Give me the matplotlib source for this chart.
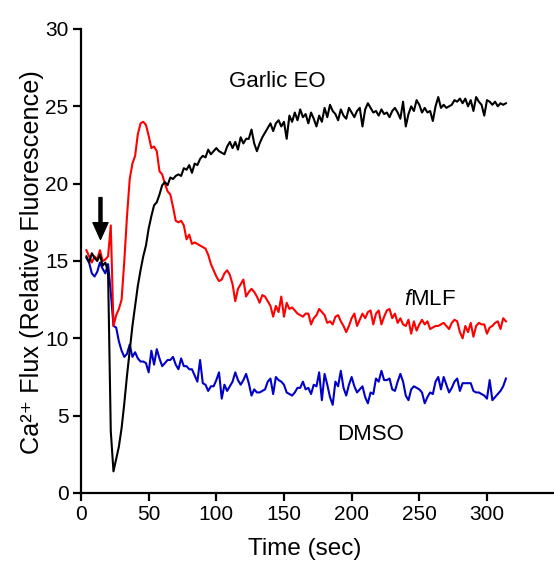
import numpy as np
import matplotlib
matplotlib.use('Agg')
import matplotlib.pyplot as plt

plt.rcParams['font.family'] = ['Liberation Sans', 'DejaVu Sans']
plt.rcParams['mathtext.fontset'] = 'custom'
plt.rcParams['mathtext.rm'] = 'Liberation Sans'
plt.rcParams['mathtext.it'] = 'Liberation Sans:italic'

################################ data (2 s sampling)
time = np.arange(4, 316, 2)

garlic = [15.3, 14.9, 15.5, 15.2, 15.0, 15.4, 14.7, 14.9, 14.3, 4.0,
          1.4, 2.2, 3.0, 4.2, 5.8, 7.6, 9.2, 10.8, 12.1, 13.4,
          14.4, 15.3, 16.0, 17.1, 17.9, 18.6, 18.8, 19.3, 19.9, 20.1,
          19.9, 20.4, 20.3, 20.5, 20.6, 20.5, 21.0, 20.9, 21.2, 20.7,
          21.3, 21.2, 21.6, 21.8, 21.7, 22.2, 21.9, 22.1, 22.3, 22.1,
          22.0, 21.9, 22.4, 22.7, 22.3, 22.7, 22.2, 23.0, 22.6, 22.9,
          22.9, 23.5, 22.6, 22.1, 22.6, 23.0, 23.3, 23.6, 23.9, 23.4,
          23.9, 24.1, 23.7, 24.0, 22.9, 24.4, 24.0, 24.6, 24.1, 24.8,
          24.3, 24.5, 23.9, 24.6, 24.2, 23.7, 24.4, 24.0, 24.9, 24.3,
          25.1, 24.7, 24.5, 24.1, 24.8, 24.4, 24.2, 24.9, 24.6, 24.3,
          24.7, 24.9, 23.7, 24.8, 25.2, 24.9, 24.6, 24.7, 24.4, 24.8,
          24.5, 24.6, 24.3, 24.7, 24.9, 24.6, 24.2, 25.3, 23.7, 24.5,
          25.0, 24.7, 25.4, 25.1, 24.6, 24.9, 24.6, 24.7, 24.05, 25.0,
          25.6, 24.9, 25.1, 24.9, 25.0, 25.1, 25.4, 25.3, 25.5, 25.2,
          25.5, 25.0, 25.4, 24.7, 25.6, 25.3, 25.1, 24.4, 25.4, 25.3,
          25.1, 25.3, 25.0, 25.2, 25.1, 25.2]

fmlf = [15.7, 15.3, 14.9, 15.3, 15.1, 15.7, 15.0, 15.1, 15.3, 17.3,
        10.8, 11.5, 11.9, 12.5, 15.0, 17.9, 20.3, 21.3, 21.8, 23.2,
        23.9, 24.0, 23.8, 23.1, 22.3, 22.4, 22.1, 20.8, 20.6, 20.0,
        19.5, 19.3, 18.5, 17.6, 17.5, 17.6, 17.3, 16.4, 16.7, 16.1,
        16.2, 16.1, 16.0, 15.9, 15.8, 15.4, 14.8, 14.4, 14.0, 13.7,
        13.8, 14.2, 14.4, 14.1, 13.5, 12.4, 13.2, 13.5, 13.8, 12.7,
        13.0, 13.2, 13.0, 12.7, 12.3, 12.8, 12.7, 12.4, 12.1, 11.4,
        12.1, 11.7, 12.7, 11.4, 12.3, 11.9, 12.0, 11.8, 11.6, 11.5,
        11.4, 11.6, 11.6, 10.9, 11.3, 11.5, 11.9, 11.7, 11.5, 11.0,
        11.1, 10.9, 11.4, 11.5, 11.1, 10.8, 10.4, 10.8, 11.3, 11.6,
        10.8, 11.2, 11.6, 11.3, 11.7, 11.8, 10.9, 11.6, 11.8, 10.9,
        11.4, 11.8, 11.9, 11.3, 11.6, 11.0, 11.3, 10.9, 10.8, 11.2,
        10.3, 11.1, 10.5, 10.9, 11.2, 10.9, 11.1, 10.6, 10.7, 10.8,
        10.8, 10.9, 11.0, 10.8, 10.6, 11.0, 11.2, 11.1, 10.4, 10.0,
        10.8, 10.4, 11.0, 10.1, 10.8, 11.0, 10.9, 10.9, 10.3, 10.7,
        10.8, 11.0, 11.1, 10.6, 11.3, 11.1]

dmso = [15.2, 14.9, 14.2, 14.0, 14.3, 14.9, 14.5, 14.2, 14.8, 13.0,
        10.8, 10.7, 9.8, 9.2, 8.8, 9.0, 9.6, 8.8, 9.1, 8.7,
        8.5, 8.5, 8.4, 7.8, 9.2, 8.3, 9.3, 8.7, 8.2, 8.4,
        8.6, 8.6, 8.8, 8.3, 8.0, 8.7, 8.2, 8.2, 8.0, 8.0,
        7.6, 7.2, 8.6, 7.1, 7.0, 6.6, 6.9, 6.9, 7.3, 7.8,
        6.1, 7.0, 6.6, 6.9, 7.2, 7.8, 7.3, 7.0, 7.3, 7.7,
        7.1, 6.3, 6.7, 6.5, 6.5, 6.6, 6.7, 7.2, 7.4, 6.4,
        7.5, 7.3, 7.2, 7.0, 6.5, 6.4, 6.3, 6.5, 6.8, 6.8,
        7.2, 6.7, 6.8, 6.4, 7.0, 6.9, 7.8, 6.0, 7.7, 7.0,
        6.2, 5.7, 7.2, 6.9, 7.9, 6.8, 6.3, 7.0, 7.5, 6.9,
        6.5, 6.7, 6.9, 6.2, 5.8, 6.5, 6.4, 7.4, 7.2, 7.9,
        7.3, 7.3, 7.4, 6.7, 6.6, 7.2, 7.7, 7.2, 6.3, 6.0,
        6.7, 6.9, 6.8, 6.7, 6.5, 5.8, 6.2, 6.5, 6.4, 7.2,
        7.5, 6.7, 7.5, 7.0, 6.5, 6.8, 7.2, 7.4, 6.6, 7.1,
        7.1, 7.1, 7.1, 6.6, 6.5, 6.5, 6.4, 6.3, 6.1, 7.3,
        6.0, 6.2, 6.4, 6.6, 6.9, 7.4]

labels = ['Garlic EO', 'fMLF', 'DMSO']
x_ticks = [0, 50, 100, 150, 200, 250, 300]
y_ticks = [0, 5, 10, 15, 20, 25, 30]

################################ plot
fig = plt.figure(figsize=(5.54, 5.63), dpi=100)
ax = fig.add_axes([81/554, 1-493/563, 472/554, 464/563])

ax.plot(time, dmso, color='#0000C8', lw=1.5)
ax.plot(time, fmlf, color='#FF0000', lw=1.5)
ax.plot(time, garlic, color='black', lw=1.5)

# stimulus arrow
ax.annotate('', xy=(14.4, 16.4), xytext=(14.4, 19.1),
            arrowprops=dict(facecolor='black', edgecolor='black', width=2.2,
                            headwidth=10.8, headlength=12.0, shrink=0))

ax.text(145, 26.6, labels[0], fontsize=16, ha='center', va='center')
ax.text(258, 12.5, r'$\mathit{f}$MLF', fontsize=16, ha='center', va='center')
ax.text(214, 3.8, labels[2], fontsize=16, ha='center', va='center')

ax.set_xlim(0, 348.8)
ax.set_ylim(0, 30)
ax.set_xticks(x_ticks)
ax.set_yticks(y_ticks)
ax.spines['top'].set_visible(False)
ax.spines['right'].set_visible(False)
ax.spines['left'].set_linewidth(1.6)
ax.spines['bottom'].set_linewidth(1.6)
ax.tick_params(axis='both', which='major', labelsize=15, width=1.6, length=6,
               direction='out', pad=3)
ax.set_xlabel('Time (sec)', fontsize=17.5, labelpad=10)
ax.xaxis.label.set_x(0.4746)
ax.set_ylabel('Ca\u00b2\u207a Flux (Relative Fluorescence)', fontsize=18.2)
ax.yaxis.set_label_coords(-0.079, 0.498)

fig.savefig('out.png', dpi=100)
